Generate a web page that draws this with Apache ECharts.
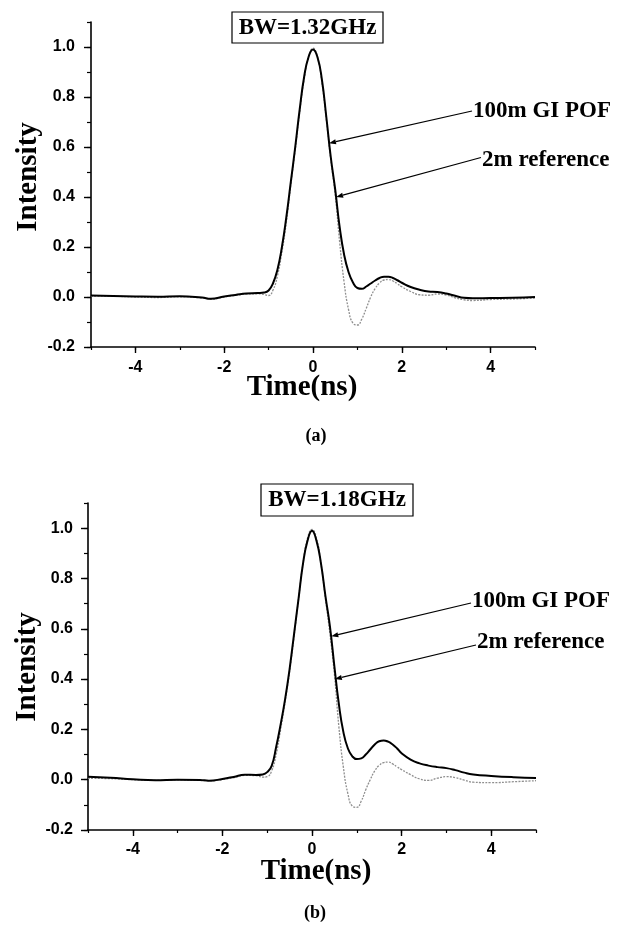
<!DOCTYPE html>
<html><head><meta charset="utf-8">
<script src="https://cdn.jsdelivr.net/npm/echarts@6/dist/echarts.min.js"></script>
<style>html,body{margin:0;padding:0;background:#fff}#c{width:618px;height:928px}</style>
</head><body><div id="c"></div>
<script>
// ---- data ----
const time = [-5,-4.5,-4,-3.5,-3,-2.5,-2.3,-2,-1.75,-1.5,-1.25,-1.1,-1,-0.9,-0.8,-0.7,-0.6,-0.5,-0.4,-0.3,-0.2,-0.1,0,0.1,0.2,0.3,0.4,0.5,0.6,0.7,0.8,0.9,1.0,1.1,1.2,1.3,1.4,1.5,1.6,1.7,1.8,1.9,2.0,2.2,2.4,2.6,2.8,3.0,3.2,3.4,3.6,4.0,4.5,5.0];
// (a) BW=1.32GHz
const pofA = [0.006,0.004,0.002,0.001,0.003,-0.002,-0.007,0.002,0.008,0.014,0.016,0.018,0.026,0.055,0.11,0.2,0.32,0.46,0.6,0.75,0.88,0.96,0.99,0.96,0.87,0.72,0.56,0.43,0.28,0.17,0.1,0.058,0.036,0.033,0.042,0.054,0.066,0.076,0.081,0.081,0.076,0.067,0.057,0.04,0.029,0.022,0.02,0.014,0.005,-0.003,-0.005,-0.004,-0.003,0.0];
const refA = [0.004,0.003,0.0,-0.002,0.001,-0.004,-0.009,0.0,0.006,0.012,0.013,0.01,0.006,0.028,0.085,0.18,0.3,0.45,0.59,0.74,0.87,0.96,0.995,0.96,0.86,0.71,0.55,0.41,0.22,0.06,-0.05,-0.105,-0.112,-0.088,-0.045,0.0,0.034,0.056,0.068,0.07,0.064,0.053,0.041,0.022,0.009,0.007,0.012,0.008,-0.003,-0.011,-0.014,-0.01,-0.008,-0.004];
// (b) BW=1.18GHz
const pofB = [0.012,0.008,0.002,-0.002,0.0,-0.001,-0.004,0.003,0.011,0.02,0.019,0.021,0.03,0.055,0.13,0.22,0.32,0.44,0.58,0.72,0.86,0.95,0.99,0.95,0.86,0.73,0.61,0.45,0.3,0.19,0.125,0.093,0.082,0.085,0.1,0.12,0.14,0.153,0.156,0.151,0.14,0.124,0.105,0.08,0.065,0.056,0.05,0.046,0.038,0.028,0.021,0.015,0.01,0.007];
const refB = [0.006,0.004,0.0,-0.003,-0.001,-0.003,-0.005,0.001,0.008,0.017,0.016,0.01,0.012,0.035,0.1,0.2,0.31,0.43,0.57,0.72,0.86,0.96,0.995,0.96,0.86,0.72,0.58,0.42,0.21,0.05,-0.055,-0.105,-0.11,-0.085,-0.04,0.0,0.035,0.057,0.068,0.07,0.063,0.051,0.04,0.02,0.003,-0.003,0.006,0.012,0.008,-0.002,-0.01,-0.012,-0.008,-0.004];
const xTickLabels = [-4,-2,0,2,4];
const yTickLabels = [-0.2,0,0.2,0.4,0.6,0.8,1.0];
const titles = ['BW=1.32GHz','BW=1.18GHz'];
const panelLabels = ['(a)','(b)'];
const seriesNames = ['100m GI POF','2m reference'];
// arrow tip positions in data coordinates [time, intensity]
const tipPofA = [0.36, 0.615], tipRefA = [0.52, 0.40];
const tipPofB = [0.43, 0.57],  tipRefB = [0.51, 0.40];

// ---- chart ----
const chart = echarts.init(document.getElementById('c'));
const grids = [
  {left:91, top:22, width:444, height:325},
  {left:88, top:503, width:448, height:327}
];
const tickFont = {color:'#000', fontFamily:'Liberation Sans', fontWeight:'bold', fontSize:16};
const xAxes = [], yAxes = [];
[13,12].forEach((xm, g) => {
  xAxes.push({gridIndex:g, type:'value', min:-5, max:5, interval:1,
    axisLine:{onZero:false, lineStyle:{color:'#000', width:1.6}},
    axisTick:{length:3, lineStyle:{color:'#000', width:1.2}},
    axisLabel:Object.assign({customValues:xTickLabels, margin:xm}, tickFont),
    splitLine:{show:false}});
  xAxes.push({gridIndex:g, type:'value', min:-5, max:5, position:'bottom',
    axisLine:{show:false, onZero:false},
    axisTick:{customValues:xTickLabels, length:6, lineStyle:{color:'#000', width:1.4}},
    axisLabel:{show:false}, splitLine:{show:false}});
  yAxes.push({gridIndex:g, type:'value', min:-0.2, max:1.1, interval:0.1,
    axisLine:{onZero:false, lineStyle:{color:'#000', width:1.6}},
    axisTick:{length:4, lineStyle:{color:'#000', width:1.2}},
    axisLabel:Object.assign({customValues:yTickLabels, margin:g===0?16:15, formatter:v=>v.toFixed(1)}, tickFont),
    splitLine:{show:false}});
  yAxes.push({gridIndex:g, type:'value', min:-0.2, max:1.1, position:'left',
    axisLine:{show:false, onZero:false},
    axisTick:{customValues:yTickLabels, length:7, lineStyle:{color:'#000', width:1.4}},
    axisLabel:{show:false}, splitLine:{show:false}});
});
function mk(arr){ return time.map((t,i)=>[t, arr[i]]); }
const refStyle = {color:'#8f8f8f', width:1.3, type:[2,1.3]};
const pofStyle = {color:'#000', width:2};
const common = {type:'line', showSymbol:false, smooth:0.5};
const series = [
  Object.assign({name:seriesNames[1], xAxisIndex:0, yAxisIndex:0, data:mk(refA), lineStyle:refStyle, z:2}, common),
  Object.assign({name:seriesNames[0], xAxisIndex:0, yAxisIndex:0, data:mk(pofA), lineStyle:pofStyle, z:3}, common),
  Object.assign({name:seriesNames[1], xAxisIndex:2, yAxisIndex:2, data:mk(refB), lineStyle:refStyle, z:2}, common),
  Object.assign({name:seriesNames[0], xAxisIndex:2, yAxisIndex:2, data:mk(pofB), lineStyle:pofStyle, z:3}, common)
];
chart.setOption({animation:false, backgroundColor:'#fff', grid:grids, xAxis:xAxes, yAxis:yAxes, series:series});

// ---- annotations ----
const serif = '"Liberation Serif", "Times New Roman", serif';
function txt(x, y, text, size, align, rot){
  return {type:'text', x:x, y:y, rotation:rot||0, z:10,
    style:{text:text, font:'bold '+size+'px '+serif, fill:'#000', align:align||'center', verticalAlign:'middle'}};
}
function arrow(tail, tip){
  const dx = tip[0]-tail[0], dy = tip[1]-tail[1], L = Math.hypot(dx,dy);
  const ux = dx/L, uy = dy/L, len = 7, w = 2.6;
  const bx = tip[0]-ux*len, by = tip[1]-uy*len;
  return [
    {type:'line', z:10, shape:{x1:tail[0], y1:tail[1], x2:bx, y2:by}, style:{stroke:'#000', lineWidth:1.2}},
    {type:'polygon', z:10, shape:{points:[[tip[0],tip[1]],[bx-uy*w,by+ux*w],[bx+uy*w,by-ux*w]]}, style:{fill:'#000'}}
  ];
}
const pA1 = chart.convertToPixel({gridIndex:0}, tipPofA);
const pA2 = chart.convertToPixel({gridIndex:0}, tipRefA);
const pB1 = chart.convertToPixel({gridIndex:1}, tipPofB);
const pB2 = chart.convertToPixel({gridIndex:1}, tipRefB);
const graphic = [
  {type:'rect', z:9, shape:{x:232, y:12, width:151, height:31}, style:{fill:'#fff', stroke:'#000', lineWidth:1.2}},
  txt(307.5, 28, titles[0], 23),
  {type:'rect', z:9, shape:{x:261, y:484, width:152, height:32}, style:{fill:'#fff', stroke:'#000', lineWidth:1.2}},
  txt(337, 500.5, titles[1], 23),
  txt(29, 177, 'Intensity', 29, 'center', Math.PI/2),
  txt(28, 667, 'Intensity', 29, 'center', Math.PI/2),
  txt(302, 388, 'Time(ns)', 29),
  txt(316, 872, 'Time(ns)', 29),
  txt(316, 436, panelLabels[0], 18),
  txt(315, 913, panelLabels[1], 18),
  txt(473, 111, seriesNames[0], 23, 'left'),
  txt(482, 160, seriesNames[1], 23, 'left'),
  txt(472, 601, seriesNames[0], 23, 'left'),
  txt(477, 642, seriesNames[1], 23, 'left')
].concat(arrow([472,111], pA1), arrow([481,157.5], pA2), arrow([471,603], pB1), arrow([476,645], pB2));
chart.setOption({graphic:graphic});
</script></body></html>
